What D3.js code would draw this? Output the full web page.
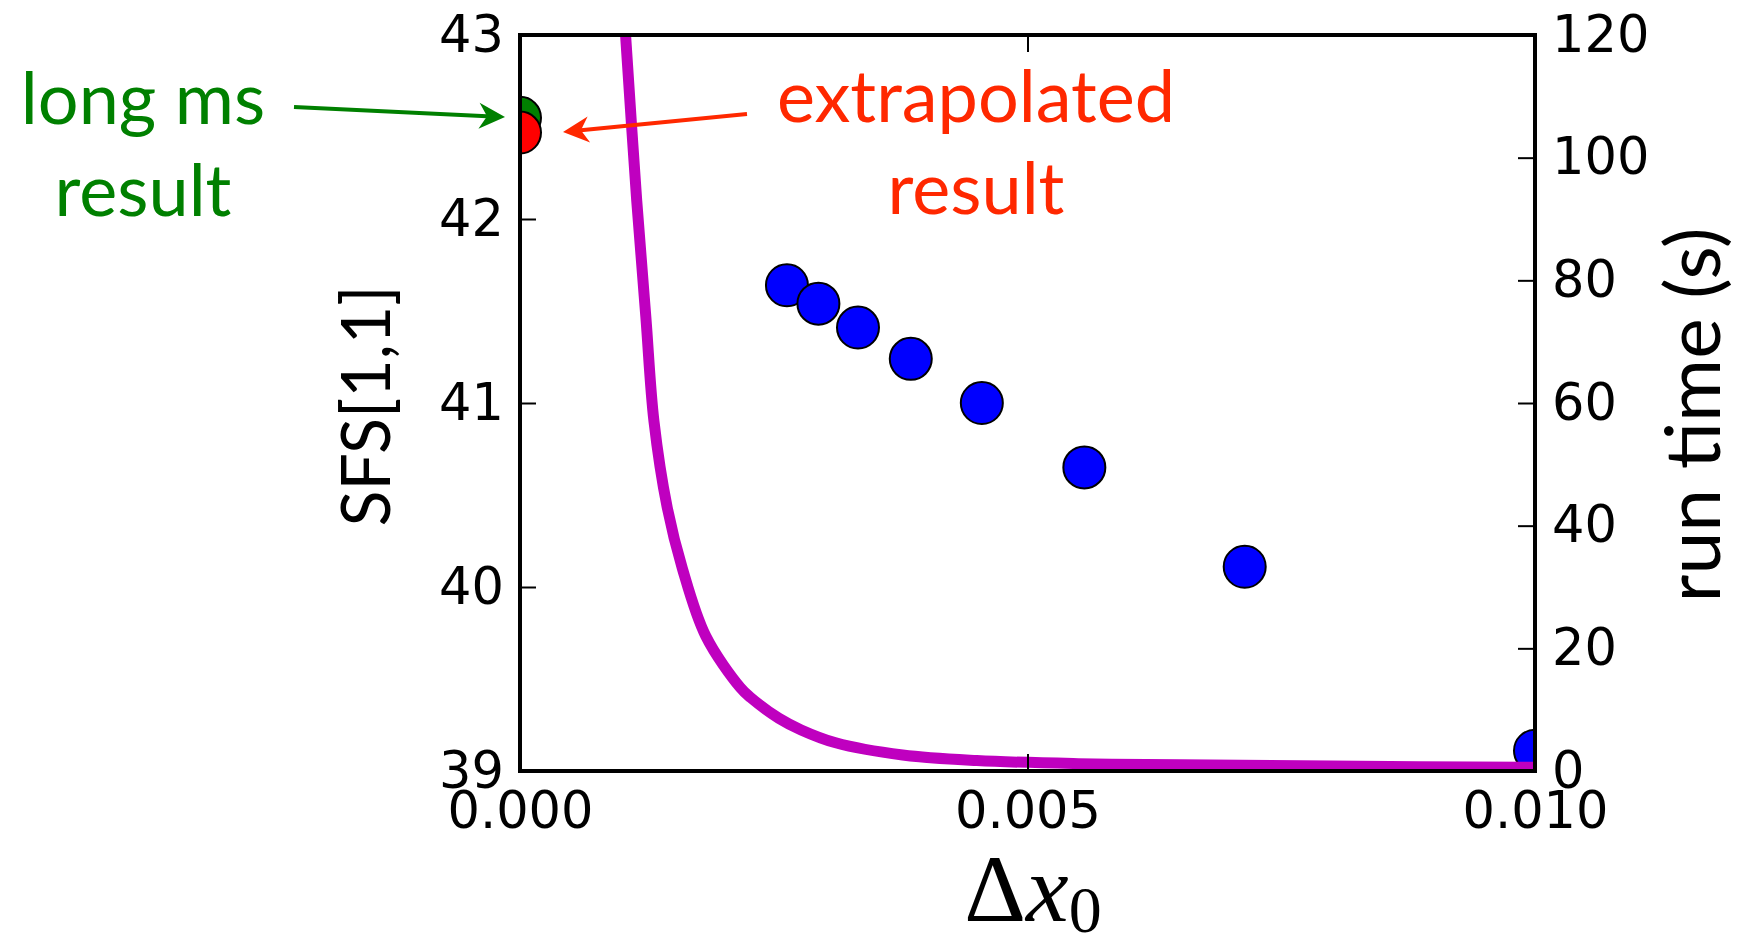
<!DOCTYPE html>
<html>
<head>
<meta charset="utf-8">
<script src="https://cdn.jsdelivr.net/npm/d3@7"></script>
<style>
  html, body { margin: 0; padding: 0; background: #fff; }
  svg { display: block; }
</style>
</head>
<body>
<svg id="chart" width="1738" height="936"></svg>
<script>
// grid spacing values (x) and SFS[1,1] results (left axis)
const dxValues = [0.00263, 0.00294, 0.00333, 0.00385, 0.00455, 0.00556, 0.00714, 0.01000];
const sfsValues = [41.64, 41.54, 41.41, 41.24, 41.00, 40.65, 40.11, 39.11];

// reference results at dx = 0
const longMsResult = 42.55;
const extrapolatedResult = 42.47;

// run time curve (right axis)
const curveDx = [0.00098, 0.00104, 0.00115, 0.00124, 0.00132, 0.00145, 0.00160, 0.00183,
  0.00217, 0.00227, 0.00255, 0.00277, 0.00311, 0.00377, 0.00450, 0.00550, 0.00650, 0.00800, 0.01000];
const runTime = [135, 120, 93, 74, 57, 43, 33, 22, 13.6, 12.0, 8.6, 6.7, 4.6, 2.6, 1.7, 1.2, 1.0, 0.8, 0.6];

const xTicks = [0, 0.005, 0.01];
const leftTicks = [39, 40, 41, 42, 43];
const rightTicks = [0, 20, 40, 60, 80, 100, 120];

const svg = d3.select("#chart");
const plotL = 520, plotR = 1535, plotT = 35, plotB = 771;

const x = d3.scaleLinear().domain([0, 0.01]).range([plotL, plotR]);
const yL = d3.scaleLinear().domain([39, 43]).range([plotB, plotT]);
const yR = d3.scaleLinear().domain([0, 120]).range([plotB, plotT]);

svg.append("defs").append("clipPath").attr("id", "plotClip")
  .append("rect")
  .attr("x", plotL).attr("y", plotT)
  .attr("width", plotR - plotL).attr("height", plotB - plotT);

const plot = svg.append("g").attr("clip-path", "url(#plotClip)");

// SFS points
plot.selectAll("circle.sfs")
  .data(dxValues)
  .enter()
  .append("circle")
  .attr("class", "sfs")
  .attr("cx", d => x(d))
  .attr("cy", (d, i) => yL(sfsValues[i]))
  .attr("r", 21)
  .attr("fill", "#0000ff")
  .attr("stroke", "#000")
  .attr("stroke-width", 2);

plot.append("circle")
  .attr("cx", x(0)).attr("cy", yL(longMsResult)).attr("r", 21)
  .attr("fill", "#008000").attr("stroke", "#000").attr("stroke-width", 2);

plot.append("circle")
  .attr("cx", x(0)).attr("cy", yL(extrapolatedResult)).attr("r", 21)
  .attr("fill", "#ff0000").attr("stroke", "#000").attr("stroke-width", 2);

// run time curve
const line = d3.line()
  .x(d => x(d[0]))
  .y(d => yR(d[1]))
  .curve(d3.curveCatmullRom.alpha(0.5));

plot.append("path")
  .datum(curveDx.map((d, i) => [d, runTime[i]]))
  .attr("d", line)
  .attr("fill", "none")
  .attr("stroke", "#bf00bf")
  .attr("stroke-width", 11);

// axes
const tickFont = "'DejaVu Sans', sans-serif";

const gLeft = svg.append("g")
  .attr("transform", "translate(" + plotL + ",0)")
  .call(d3.axisLeft(yL).tickValues(leftTicks).tickSize(-16).tickPadding(16).tickFormat(d3.format("d")));

const gRight = svg.append("g")
  .attr("transform", "translate(" + plotR + ",0)")
  .call(d3.axisRight(yR).tickValues(rightTicks).tickSize(-17).tickPadding(17).tickFormat(d3.format("d")));

const gBottom = svg.append("g")
  .attr("transform", "translate(0," + plotB + ")")
  .call(d3.axisBottom(x).tickValues(xTicks).tickSize(-17).tickPadding(21).tickFormat(d3.format(".3f")));

const gTop = svg.append("g")
  .attr("transform", "translate(0," + plotT + ")")
  .call(d3.axisTop(x).tickValues([0.005]).tickSize(-17).tickFormat(""));

[gLeft, gRight, gBottom, gTop].forEach(g => {
  g.select(".domain").remove();
  g.selectAll(".tick line").attr("stroke", "#000").attr("stroke-width", 2);
  g.selectAll(".tick text")
    .attr("fill", "#000")
    .style("font-family", tickFont)
    .style("font-size", "51px");
});

// frame
svg.append("rect")
  .attr("x", plotL).attr("y", plotT)
  .attr("width", plotR - plotL).attr("height", plotB - plotT)
  .attr("fill", "none")
  .attr("stroke", "#000")
  .attr("stroke-width", 4);

// axis labels
svg.append("text")
  .attr("transform", "translate(390,406) rotate(-90)")
  .attr("text-anchor", "middle")
  .attr("textLength", 241)
  .attr("lengthAdjust", "spacingAndGlyphs")
  .style("font-family", "Lato, sans-serif")
  .style("font-size", "67px")
  .attr("fill", "#000")
  .text("SFS[1,1]");

svg.append("text")
  .attr("transform", "translate(1720,415) rotate(-90)")
  .attr("text-anchor", "middle")
  .attr("textLength", 375)
  .attr("lengthAdjust", "spacingAndGlyphs")
  .style("font-family", "Lato, sans-serif")
  .style("font-size", "76px")
  .attr("fill", "#000")
  .text("run time (s)");

const xLabel = svg.append("text")
  .attr("x", 1033).attr("y", 921)
  .attr("text-anchor", "middle")
  .style("font-family", "'Liberation Serif', serif")
  .style("font-size", "96px")
  .attr("fill", "#000");
xLabel.append("tspan").text("Δ");
xLabel.append("tspan").style("font-style", "italic").text("x");
xLabel.append("tspan").style("font-size", "66px").attr("dy", 11).text("0");

// annotations
function arrow(x1, y1, x2, y2, color) {
  const ang = Math.atan2(y2 - y1, x2 - x1);
  const len = 26, half = 13, notch = 8;
  const bx = x2 - len * Math.cos(ang), by = y2 - len * Math.sin(ang);
  const nx = x2 - (len - notch) * Math.cos(ang), ny = y2 - (len - notch) * Math.sin(ang);
  const px = -Math.sin(ang), py = Math.cos(ang);
  svg.append("line")
    .attr("x1", x1).attr("y1", y1).attr("x2", nx).attr("y2", ny)
    .attr("stroke", color).attr("stroke-width", 4);
  svg.append("path")
    .attr("d", "M" + x2 + "," + y2 +
      "L" + (bx + px * half) + "," + (by + py * half) +
      "L" + nx + "," + ny +
      "L" + (bx - px * half) + "," + (by - py * half) + "Z")
    .attr("fill", color);
}

const green = "#008000", red = "#ff2800";

function label(lines, cx, ys, color) {
  lines.forEach((t, i) => {
    svg.append("text")
      .attr("x", cx).attr("y", ys[i])
      .attr("text-anchor", "middle")
      .style("font-family", "Lato, sans-serif")
      .style("font-size", "72px")
      .attr("fill", color)
      .text(t);
  });
}

label(["long ms", "result"], 143, [124, 216], green);
label(["extrapolated", "result"], 976, [122, 214], red);

arrow(294, 107, 505, 117, green);
arrow(747, 114, 563, 132, red);
</script>
</body>
</html>
